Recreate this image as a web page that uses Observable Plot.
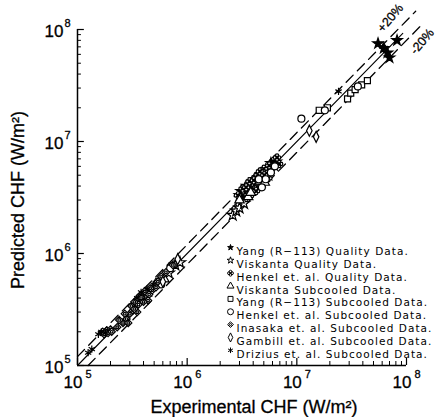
<!DOCTYPE html>
<html><head><meta charset="utf-8">
<script src="https://cdn.jsdelivr.net/npm/d3@7"></script>
<script src="https://cdn.jsdelivr.net/npm/@observablehq/plot@0.6"></script>
<style>body{margin:0;background:#fff;} #chart svg{display:block;}</style>
</head><body><div id="chart"></div>
<script>
// ---- data ----
const decades = [1e5, 1e6, 1e7, 1e8];
const exponents = ["5", "6", "7", "8"];
const seriesNames = [
  "Yang (R\u2212113) Quality Data.",
  "Viskanta Quality Data.",
  "Henkel et. al. Quality Data.",
  "Viskanta Subcooled Data.",
  "Yang (R\u2212113) Subcooled Data.",
  "Henkel et. al. Subcooled Data.",
  "Inasaka et. al. Subcooled Data.",
  "Gambill et. al. Subcooled Data.",
  "Drizius et. al. Subcooled Data."
];
const yangQuality = [[3.1e6,3.6e6],[3.5e6,4.0e6],[3.9e6,4.3e6],[4.3e6,4.6e6],[4.7e6,5.1e6],[5.2e6,5.6e6],[5.8e6,6.4e6],[3.3e6,3.3e6],[4.0e6,3.8e6],[4.5e6,4.2e6],[5.5e6,5.0e6],[3.7e6,3.9e6],[4.4e6,4.4e6],[4.8e6,4.4e6],[5.3e6,5.3e6],[6.2e6,6.1e6],[3.4e6,3.7e6],[4.1e6,4.6e6],[6.5e6,6.6e6],[3.0e6,3.3e6],[3.6e6,3.5e6],[4.2e6,4.1e6],[5.0e6,4.9e6],[5.7e6,5.8e6],[5.5e7,7.5e7],[6.7e7,6.2e7],[8.2e7,8.0e7],[7.0e7,5.6e7],[6.2e7,6.8e7]];
const viskantaQuality = [[2.6e6,2.2e6],[2.8e6,2.4e6],[3.0e6,2.55e6],[3.3e6,2.8e6],[7.8e5,7.9e5],[8.6e5,8.3e5],[6.8e5,6.7e5]];
const henkelQuality = [[2.9e6,3.3e6],[3.4e6,3.5e6],[3.7e6,3.7e6],[4.1e6,4.1e6],[4.4e6,3.9e6],[4.9e6,4.7e6],[5.3e6,5.2e6],[3.6e6,4.2e6],[4.2e6,4.8e6],[5.0e6,5.7e6],[6.0e6,5.8e6],[3.2e6,3.8e6],[3.7e6,4.4e6],[4.6e6,5.4e6],[5.6e6,6.1e6],[3.9e6,3.4e6],[4.7e6,4.0e6],[5.5e6,4.7e6],[3.45e6,3.9e6],[4.05e6,4.5e6],[4.25e6,3.6e6],[5.05e6,5.0e6],[6.9e6,6.3e6],[6.6e6,7.2e6]];
const viskantaSubcooled = [[3.0e6,3.0e6],[3.6e6,3.2e6],[4.6e6,4.4e6],[5.1e6,4.3e6],[3.8e6,3.5e6],[5.2e5,5.4e5],[6.2e5,5.9e5],[4.3e5,4.4e5]];
const yangSubcooled = [[1.6e7,1.9e7],[1.9e7,2.0e7],[2.9e7,2.4e7],[3.1e7,2.7e7],[3.4e7,2.9e7],[3.9e7,3.2e7],[4.4e7,3.5e7]];
const henkelSubcooled = [[4.5e6,4.6e6],[5.2e6,4.6e6],[5.8e6,5.3e6],[6.3e6,6.0e6],[4.8e6,3.9e6],[1.1e7,1.6e7],[1.8e7,1.9e7],[3.6e7,3.1e7],[5.8e5,5.3e5],[7.0e5,7.4e5]];
const inasakaSubcooled = [[2.3e5,2.2e5],[2.6e5,2.4e5],[2.8e5,2.6e5],[3.0e5,2.9e5],[3.2e5,3.1e5],[3.4e5,3.4e5],[3.6e5,3.5e5],[3.9e5,3.8e5],[4.2e5,4.1e5],[4.5e5,4.3e5],[4.8e5,4.7e5],[3.3e5,3.7e5],[3.7e5,4.2e5],[4.1e5,4.6e5],[2.9e5,2.4e5],[3.5e5,3.0e5],[4.4e5,3.8e5],[5.2e5,5.0e5],[1.7e5,2.0e5],[1.85e5,2.05e5],[2.0e5,2.1e5],[1.75e5,1.9e5],[1.9e5,1.95e5],[2.05e5,2.0e5],[2.4e5,2.55e5],[2.7e5,2.9e5],[3.1e5,3.4e5],[3.3e5,3.2e5],[3.8e5,4.0e5],[4.0e5,3.7e5],[4.6e5,4.9e5],[5.4e5,5.6e5],[5.8e5,6.2e5],[6.4e5,6.8e5],[7.4e5,7.9e5]];
const gambillSubcooled = [[1.5e7,1.1e7],[8.2e5,8.9e5],[6.0e5,5.6e5],[1.3e7,1.25e7]];
const driziusSubcooled = [[1.25e5,1.3e5],[1.35e5,1.4e5],[1.55e5,1.9e5],[1.65e5,2.0e5],[1.8e5,1.95e5],[3.8e5,4.5e5],[4.3e5,4.8e5],[2.4e7,2.8e7],[3.5e5,4.0e5],[4.9e5,5.3e5],[6.1e7,7.0e7]];
const bandFactors = [1.2, 0.8];
const bandLabels = ["+20%", "-20%"];
const lineExtent = [1e5, 1.25e8];

// ---- symbols ----
function rOf(size) { return Math.sqrt(size / Math.PI); }
const tallDiamond = {draw(c, size) { const r = rOf(size) * 1.25; c.moveTo(0, -r * 1.3); c.lineTo(r * 0.65, 0); c.lineTo(0, r * 1.3); c.lineTo(-r * 0.65, 0); c.closePath(); }};
const flower = {draw(c, size) { const r = rOf(size); const p = r * 0.5; for (const [a, b] of [[0.55,0],[-0.55,0],[0,0.55],[0,-0.55]]) { c.moveTo(a * r + p, b * r); c.arc(a * r, b * r, p, 0, 2 * Math.PI); } }};
const smallDiamond = {draw(c, size) { const r = rOf(size) * 1.1; c.moveTo(0, -r); c.lineTo(r, 0); c.lineTo(0, r); c.lineTo(-r, 0); c.closePath(); c.moveTo(0.35*r,0); c.arc(0,0,0.35*r,0,2*Math.PI); }};
const allSeries = [yangQuality, viskantaQuality, henkelQuality, viskantaSubcooled, yangSubcooled, henkelSubcooled, inasakaSubcooled, gambillSubcooled, driziusSubcooled];
const symStyles = [
  {symbol: "star", fill: "black", stroke: "black", r: 3.3, lr: 1.8},
  {symbol: "star", fill: "white", stroke: "black", r: 3.5, lr: 2.1},
  {symbol: flower, fill: "white", stroke: "black", r: 3.5, lr: 2.8},
  {symbol: "triangle", fill: "white", stroke: "black", r: 3.5, lr: 2.6},
  {symbol: "square", fill: "white", stroke: "black", r: 3.4, lr: 2.8},
  {symbol: "circle", fill: "white", stroke: "black", r: 3.5, lr: 3.0},
  {symbol: smallDiamond, fill: "white", stroke: "black", r: 3.3, lr: 2.6},
  {symbol: tallDiamond, fill: "white", stroke: "black", r: 3.4, lr: 2.8},
  {symbol: "asterisk", fill: "none", stroke: "black", r: 3.4, lr: 2.6}
];

const minorTicks = decades.slice(0, -1).flatMap(d => d3.range(2, 10).map(k => k * d));
const W = 446, H = 417;
const mL = 77, mR = 40, mT = 29, mB = 52;
// inward tick lengths expressed as factors on the log scale (≈ 7px and 4px)
const majorTickFactor = Math.pow(10, 7 / 112);
const minorTickFactor = Math.pow(10, 4 / 112);

const marks = [];
// reference lines
bandFactors.forEach((f, i) => {
  const start = Math.max(lineExtent[0], lineExtent[0] / f);
  marks.push(Plot.line([start, lineExtent[1] * (f > 1 ? 0.97 : 1.1)], {x: d => d, y: d => d * f, stroke: "black", strokeWidth: 1.3, strokeDasharray: "10,6"}));
});
marks.push(Plot.line([lineExtent[0], lineExtent[1] * 0.74], {x: d => d, y: d => d, stroke: "black", strokeWidth: 1.1}));
// band labels
const tf = "Liberation Sans, Arial, sans-serif";
const bold = {fill: "black", stroke: "black", strokeWidth: 0.3};
marks.push(Plot.text([bandLabels[0]], {x: () => 8.6e7, y: () => 8.6e7 * bandFactors[0], text: d => d, dx: -9, dy: -10, rotate: -50, fontSize: 12.5, fontFamily: tf, ...bold}));
marks.push(Plot.text([bandLabels[1]], {x: () => 1.2e8, y: () => 1.2e8 * bandFactors[1], text: d => d, dx: 7, dy: 10, rotate: -50, fontSize: 12.5, fontFamily: tf, ...bold}));
// data
allSeries.forEach((s, i) => {
  const st = symStyles[i];
  marks.push(Plot.dot(s, {x: d => d[0], y: d => d[1], symbol: st.symbol, fill: st.fill, stroke: st.stroke, r: st.r, strokeWidth: 1.2}));
});
// axes lines
marks.push(Plot.ruleX([decades[0]], {stroke: "black", strokeWidth: 1.5}));
marks.push(Plot.ruleY([decades[0]], {stroke: "black", strokeWidth: 1.5}));
// inward ticks
marks.push(Plot.ruleX(decades, {x: d => d, y1: decades[0], y2: decades[0] * majorTickFactor, stroke: "black", strokeWidth: 1.2}));
marks.push(Plot.ruleX(minorTicks, {x: d => d, y1: decades[0], y2: decades[0] * minorTickFactor, stroke: "black", strokeWidth: 1}));
marks.push(Plot.ruleY(decades, {y: d => d, x1: decades[0], x2: decades[0] * majorTickFactor, stroke: "black", strokeWidth: 1.2}));
marks.push(Plot.ruleY(minorTicks, {y: d => d, x1: decades[0], x2: decades[0] * minorTickFactor, stroke: "black", strokeWidth: 1}));
// tick labels
marks.push(Plot.text(decades, {x: d => d, frameAnchor: "bottom", text: () => "10", textAnchor: "end", dx: 5, dy: 22, fontSize: 17, fontFamily: tf, ...bold}));
marks.push(Plot.text(decades, {x: d => d, frameAnchor: "bottom", text: (d, i) => exponents[i], textAnchor: "start", dx: 8, dy: 12, fontSize: 11, fontFamily: tf, ...bold}));
marks.push(Plot.text(decades, {y: d => d, frameAnchor: "left", text: () => "10", textAnchor: "end", dx: -14, dy: 2, fontSize: 17, fontFamily: tf, ...bold}));
marks.push(Plot.text(decades, {y: d => d, frameAnchor: "left", text: (d, i) => exponents[i], textAnchor: "start", dx: -13, dy: -6, fontSize: 11, fontFamily: tf, ...bold}));
// legend
const lf = "DejaVu Sans, sans-serif";
seriesNames.forEach((name, i) => {
  const st = symStyles[i];
  const dy = 218 + i * 12.85;
  marks.push(Plot.dot([name], {x: null, y: null, frameAnchor: "top-left", dx: 153, dy, symbol: st.symbol, fill: st.fill, stroke: st.stroke, r: st.lr, strokeWidth: 1}));
  marks.push(Plot.text([name], {x: null, y: null, frameAnchor: "top-left", dx: 159, dy, text: d => d, textAnchor: "start", fontSize: 10.5, fontFamily: lf}));
});

const plot = Plot.plot({
  width: W, height: H,
  marginLeft: mL, marginRight: mR, marginTop: mT, marginBottom: mB,
  style: {background: "white", color: "black", overflow: "visible"},
  x: {type: "log", domain: [decades[0], decades[3]], axis: null},
  y: {type: "log", domain: [decades[0], decades[3]], axis: null},
  marks
});
document.getElementById("chart").appendChild(plot);

const svg = d3.select(plot);
svg.selectAll("text").filter(function () { return seriesNames.includes(this.textContent); })
  .attr("letter-spacing", "1.05px");
// axis titles
svg.append("text").attr("x", 254).attr("y", 413).attr("text-anchor", "middle")
  .attr("font-family", tf).attr("font-size", 18).attr("fill", "black")
  .attr("stroke", "black").attr("stroke-width", 0.3)
  .text("Experimental CHF (W/m\u00B2)");
svg.append("text").attr("transform", "translate(24,200) rotate(-90)").attr("text-anchor", "middle")
  .attr("font-family", tf).attr("font-size", 18).attr("fill", "black")
  .attr("stroke", "black").attr("stroke-width", 0.3)
  .text("Predicted CHF (W/m\u00B2)");
</script>
</body></html>
